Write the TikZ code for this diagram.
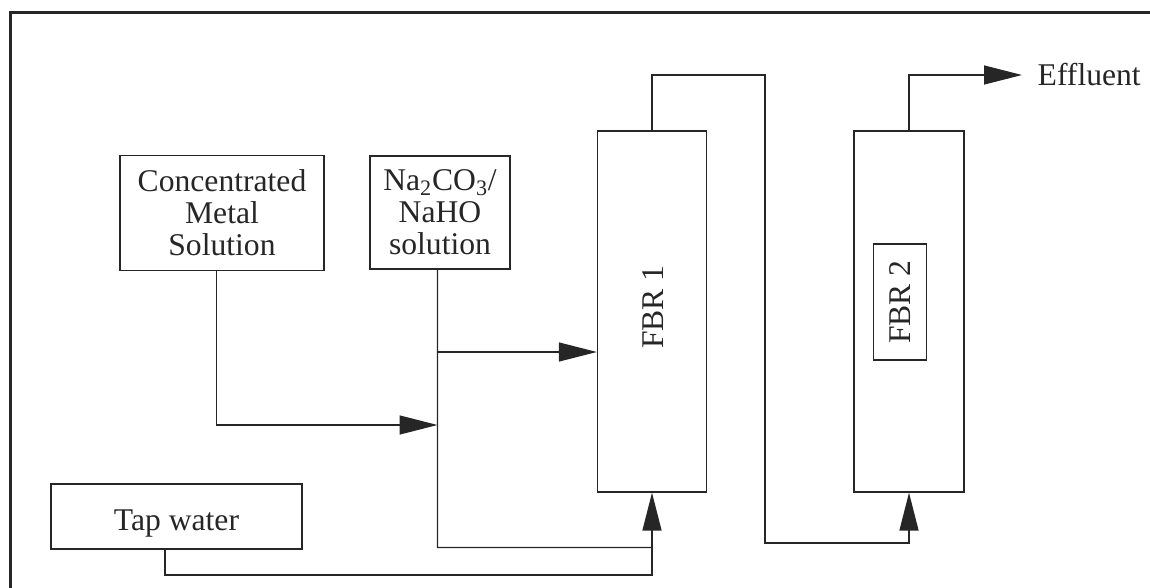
\documentclass[tikz,border=0pt]{standalone}
\usepackage{fontspec}
\setmainfont{Liberation Serif}
\usetikzlibrary{arrows.meta}

\begin{document}
\begin{tikzpicture}[x=0.02cm, y=-0.02cm, line width=0.8pt, color=black!85,
        font=\fontsize{18}{18.2}\selectfont,
        >={Triangle[length=0.76cm, width=0.38cm]},
        box/.style={draw, rectangle, align=center, inner sep=0pt},
        column/.style={box, minimum height=7.22cm}]

        \useasboundingbox (0,0) rectangle (1150,588);

        % ==========================================
        % 1. Frame (top and left edge only)
        % ==========================================
        \draw[line width=1.3pt] (10.5,588) -- (10.5,12.5) -- (1150,12.5);

        % ==========================================
        % 2. Feed tanks
        % ==========================================
        \node[box, minimum width=4.08cm, minimum height=2.3cm] (conc) at (222,213) {Concentrated\\Metal\\Solution};
        \node[box, minimum width=2.8cm, minimum height=2.26cm] (soda) at (440,212.5) {Na\textsubscript{2}CO\textsubscript{3}/\\NaHO\\solution};
        \node[box, minimum width=5.02cm, minimum height=1.3cm, text height=16pt, text depth=0pt] (tap) at (176.5,516.5) {Tap water};

        % ==========================================
        % 3. Fluidized bed reactors
        % ==========================================
        \node[column, minimum width=2.18cm] (fbr1) at (652,311.5) {};
        \node[rotate=90] (fbr1lbl) at (653,307) {FBR 1};

        \node[column, minimum width=2.2cm] (fbr2) at (909,311.5) {};
        \node[box, rotate=90, minimum width=2.32cm, minimum height=1.06cm] (fbr2lbl) at (900,302) {FBR 2};

        \node[anchor=west, inner xsep=0.3cm, inner ysep=0pt] (effl) at (1022,75) {Effluent};

        % ==========================================
        % 4. Piping
        % ==========================================
        \coordinate (cmix) at (437.5,425);   % metal solution joins soda line
        \coordinate (branch) at (437.5,352); % soda to side of FBR 1
        \coordinate (sbend) at (437.5,547.5);
        \coordinate (tbend) at (652,575);
        \coordinate (fbrtop) at (765,75);
        \coordinate (fbrlow) at (765,543);

        \draw[->] ([xshift=-0.11cm]conc.south) |- (cmix);
        \draw ([xshift=-0.05cm]soda.south) -- (sbend) -- (sbend -| fbr1.south);
        \draw[->] (branch) -- (branch -| fbr1.west);
        \draw[->] ([xshift=-0.23cm]tap.south) |- (tbend) -- (fbr1.south);

        \draw[->] (fbr1.north) |- (fbrtop) -- (fbrlow) -| (fbr2.south);
        \draw[->] (fbr2.north) |- (effl.west);

    \end{tikzpicture}
\end{document}
